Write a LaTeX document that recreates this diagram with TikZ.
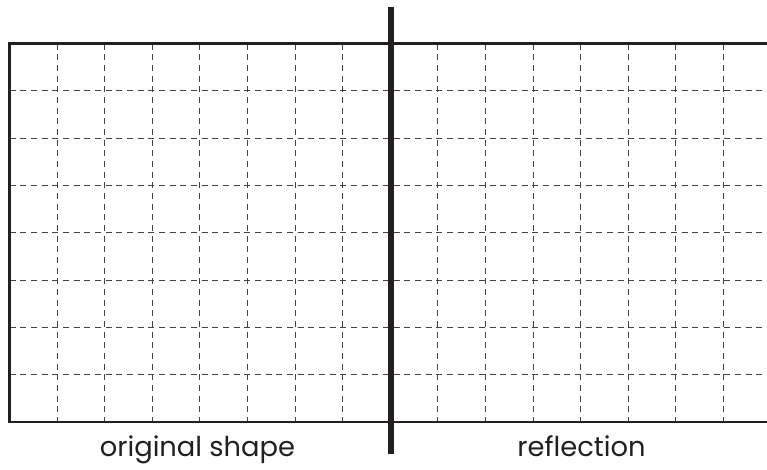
\documentclass[tikz,border=0pt]{standalone}
\usepackage{fontspec}
\setmainfont{Poppins}
\definecolor{ink}{HTML}{231F20}
\begin{document}
\begin{tikzpicture}[x=0.75pt,y=-0.75pt,
  gridline/.style={ink!85, line width=0.75pt, dash pattern=on 4.5pt off 3.5pt},
  border/.style={ink, line width=1.6pt},
  mirror/.style={ink, line width=4pt},
  caption/.style={inner sep=0pt, anchor=base, text=ink, font=\fontsize{20.5}{22}\selectfont}]
\useasboundingbox (0,0) rectangle (767,469);
\begin{scope}
\clip (0,0) rectangle (767,469);
% horizontal dashed lines
\foreach \i in {1,...,7}{
  \draw[gridline] (9.5,{43.5+47.3*\i}) -- (767,{43.5+47.3*\i});
}
% vertical dashed lines
\foreach \i in {1,...,7}{
  \draw[gridline] ({9.5+47.6*\i},43.5) -- ({9.5+47.6*\i},422);
  \draw[gridline] ({390.3+47.6*\i},43.5) -- ({390.3+47.6*\i},422);
}
\coordinate (tl) at (9.5,43.5);
\coordinate (tr) at (770,43.5);
\coordinate (bl) at (9.5,422);
\coordinate (br) at (770,422);
\draw[border] (tr) -- (tl) -- (bl) -- (br);
\coordinate (mtop) at (391,7);
\coordinate (mbot) at (391,454);
\draw[mirror] (mtop) -- (mbot);
\end{scope}
\node[caption] (orig) at (197.5,456.5) {original shape};
\node[caption] (refl) at (581.5,456.5) {reflection};
\end{tikzpicture}
\end{document}
